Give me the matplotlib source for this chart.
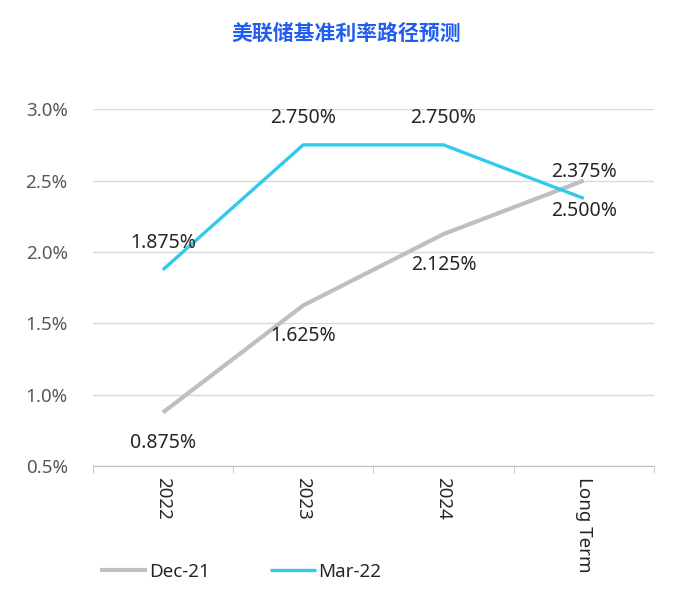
import matplotlib.pyplot as plt
from matplotlib.ticker import FuncFormatter

plt.rcParams["font.family"] = ["Noto Sans", "Noto Sans CJK SC", "DejaVu Sans"]

categories = ["2022", "2023", "2024", "Long Term"]
dec21 = [0.875, 1.625, 2.125, 2.500]
mar22 = [1.875, 2.750, 2.750, 2.375]
title = "美联储基准利率路径预测"

GRAY = "#bfbfbf"
CYAN = "#2fcaec"
TEXT = "#262626"

fig = plt.figure(figsize=(6.92, 6.10), dpi=100)
ax = fig.add_axes([0.134, 0.236, 0.811, 0.585])

x = list(range(len(categories)))
ax.plot(x, dec21, color=GRAY, lw=3, label="Dec-21", solid_capstyle="butt")
ax.plot(x, mar22, color=CYAN, lw=2.4, label="Mar-22", solid_capstyle="butt")

# data labels: Dec-21 below, Mar-22 above
for xi, v in zip(x, dec21):
    ax.annotate(f"{v:.3f}%", (xi, v), xytext=(0, -15), textcoords="offset points",
                ha="center", va="top", fontsize=14, color=TEXT)
for xi, v in zip(x, mar22):
    ax.annotate(f"{v:.3f}%", (xi, v), xytext=(0, 12), textcoords="offset points",
                ha="center", va="bottom", fontsize=14, color=TEXT)

ax.set_xlim(-0.5, len(categories) - 0.5)
ax.set_ylim(0.5, 3.0)
ax.set_yticks([0.5, 1.0, 1.5, 2.0, 2.5, 3.0])
ax.yaxis.set_major_formatter(FuncFormatter(lambda v, _: f"{v:.1f}%"))
ax.tick_params(axis="y", length=0, pad=18, labelsize=13.5, labelcolor="#595959")
ax.grid(axis="y", color="#d9d9d9", lw=1)
ax.set_axisbelow(True)

ax.set_xticks(x)
ax.set_xticklabels(categories, rotation=270, fontsize=13.5, color=TEXT)
ax.set_xticks([i + 0.5 for i in range(-1, len(categories))], minor=True)
ax.tick_params(axis="x", which="major", length=0, pad=8)
ax.tick_params(axis="x", which="minor", length=5, color="#bfbfbf")

for s in ["top", "right", "left"]:
    ax.spines[s].set_visible(False)
ax.spines["bottom"].set_color("#bfbfbf")

fig.text(0.5, 0.945, title, ha="center", va="center", fontsize=15,
         fontweight="bold", color="#1f5ef0", family=["Noto Sans CJK SC", "DejaVu Sans"])

fig.legend(loc="lower left", bbox_to_anchor=(0.12, 0.02), ncol=2, frameon=False,
           fontsize=13.5, handlelength=2.5, columnspacing=3.2, handletextpad=0.1,
           labelcolor=TEXT)

fig.savefig("out.png", dpi=100)
